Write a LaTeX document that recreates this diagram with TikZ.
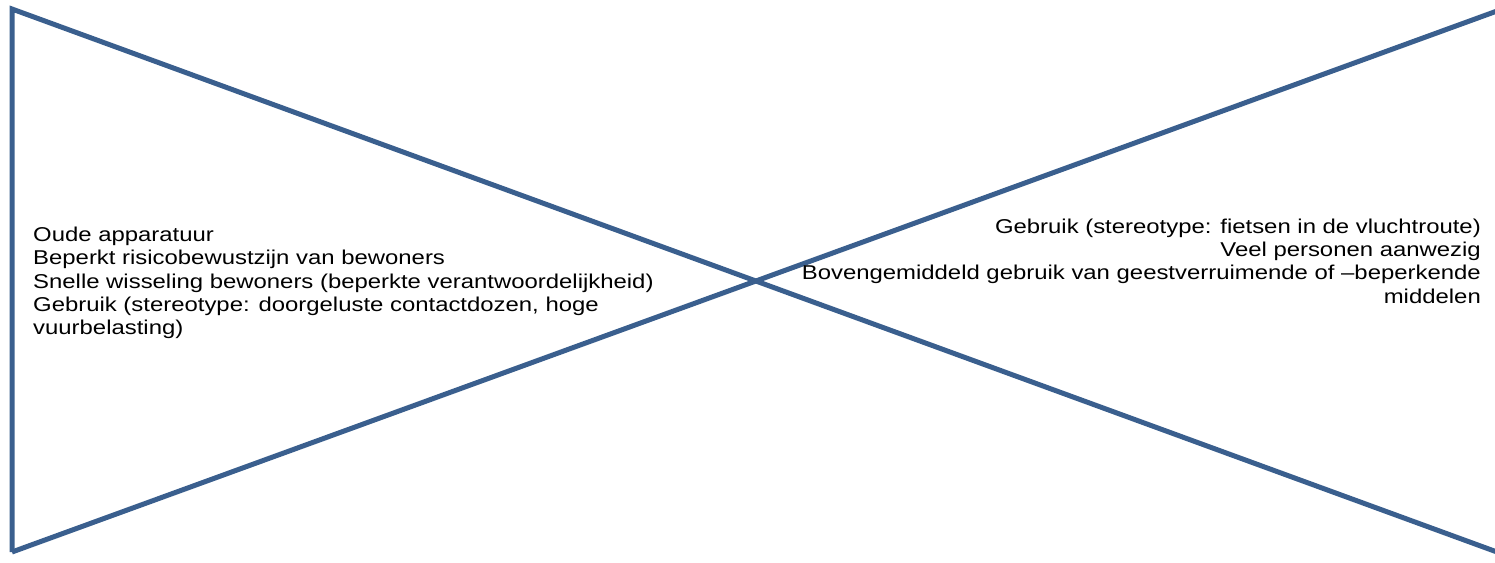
\documentclass[tikz,border=0pt]{standalone}
\usepackage{fontspec}
\setmainfont{Liberation Sans}
\newfontfamily\widesans[FakeStretch=1.195]{Liberation Sans}
\definecolor{tiecolor}{HTML}{3A5F8E}
\begin{document}
\begin{tikzpicture}[x=1pt,y=-1pt,
  tie/.style={draw=tiecolor,line width=5pt,line join=miter},
  causes/.style={font=\widesans\fontsize{20}{23.3}\selectfont,align=left,inner sep=0pt,anchor=west},
  effects/.style={font=\widesans\fontsize{20}{23.3}\selectfont,align=right,inner sep=0pt,anchor=east}]
  \useasboundingbox (0,0) rectangle (1495,562);
  % corner points of the bow-tie
  \coordinate (tl) at (12,9);
  \coordinate (bl) at (12,552);
  \coordinate (tr) at (1497,11);
  \coordinate (br) at (1497,552);
  \draw[tie] (bl) -- (tl) -- (br);
  \draw[tie] (bl) -- (tr);
  % left side: causes
  \node[causes] (left) at (33,283) {Oude apparatuur\\
    Beperkt risicobewustzijn van bewoners\\
    Snelle wisseling bewoners (beperkte verantwoordelijkheid)\\
    Gebruik (stereotype: doorgeluste contactdozen, hoge\\
    vuurbelasting)};
  % right side: consequences
  \node[effects] (right) at (1481,261) {Gebruik (stereotype: fietsen in de vluchtroute)\\
    Veel personen aanwezig\\
    Bovengemiddeld gebruik van geestverruimende of –beperkende\\
    middelen};
\end{tikzpicture}
\end{document}
